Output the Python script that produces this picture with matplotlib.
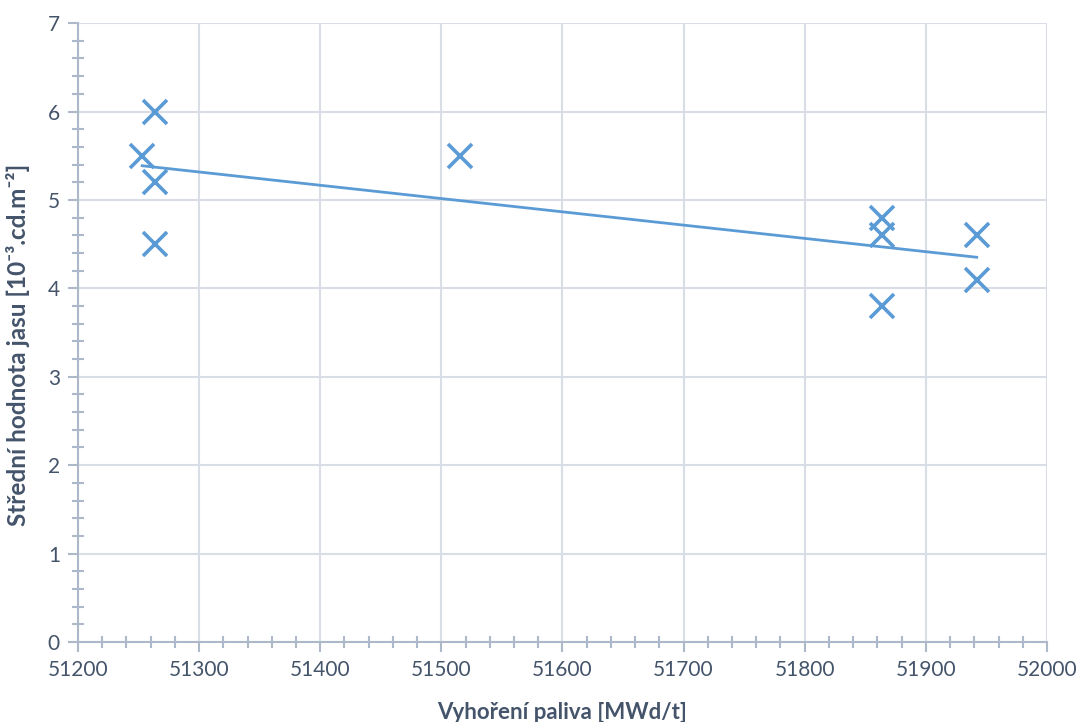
import matplotlib.pyplot as plt
import numpy as np
from matplotlib.ticker import MultipleLocator

plt.rcParams['font.family'] = ['Lato', 'DejaVu Sans']

# vyhoreni paliva [MWd/t] a stredni hodnota jasu
burnup = [51253, 51264, 51264, 51264, 51515, 51864, 51864, 51864, 51942, 51942]
jas = [5.5, 6.0, 5.2, 4.5, 5.5, 4.8, 4.6, 3.8, 4.6, 4.1]

text_col = '#44546A'
axis_col = '#ADB9CA'
grid_col = '#D9DEE6'
blue = '#5B9BD5'

fig = plt.figure(figsize=(10.8, 7.22), dpi=100)
ax = fig.add_axes([0.0722, 0.1108, 0.8972, 0.8572])

ax.plot(burnup, jas, linestyle='none', marker='x', markersize=17,
        markeredgewidth=2.6, color=blue, zorder=3)

# linearni trend
k, q = np.polyfit(burnup, jas, 1)
xt = np.array([min(burnup), max(burnup)])
ax.plot(xt, k * xt + q, color=blue, lw=2, zorder=2)

ax.set_xlim(51200, 52000)
ax.set_ylim(0, 7)
ax.xaxis.set_major_locator(MultipleLocator(100))
ax.xaxis.set_minor_locator(MultipleLocator(20))
ax.yaxis.set_major_locator(MultipleLocator(1))
ax.yaxis.set_minor_locator(MultipleLocator(0.2))

ax.grid(True, which='major', color=grid_col, lw=1.5)
ax.set_axisbelow(True)
for s in ['top', 'right']:
    ax.spines[s].set_visible(False)
for s in ['left', 'bottom']:
    ax.spines[s].set_color(axis_col)
    ax.spines[s].set_linewidth(1.5)

ax.tick_params(which='major', direction='out', length=7, width=1.5,
               color=axis_col, labelcolor=text_col, labelsize=15, pad=6)
ax.tick_params(which='minor', direction='inout', length=8, width=1.5,
               color=axis_col)

ax.set_xlabel('Vyhoření paliva [MWd/t]', fontsize=16, fontweight='bold',
              color=text_col, labelpad=16)
ax.set_ylabel('Střední hodnota jasu [10⁻³.cd.m⁻²]', fontsize=17.5,
              fontweight='bold', color=text_col)
ax.yaxis.set_label_coords(-0.05, 0.48)

fig.savefig('out.png', dpi=100)
